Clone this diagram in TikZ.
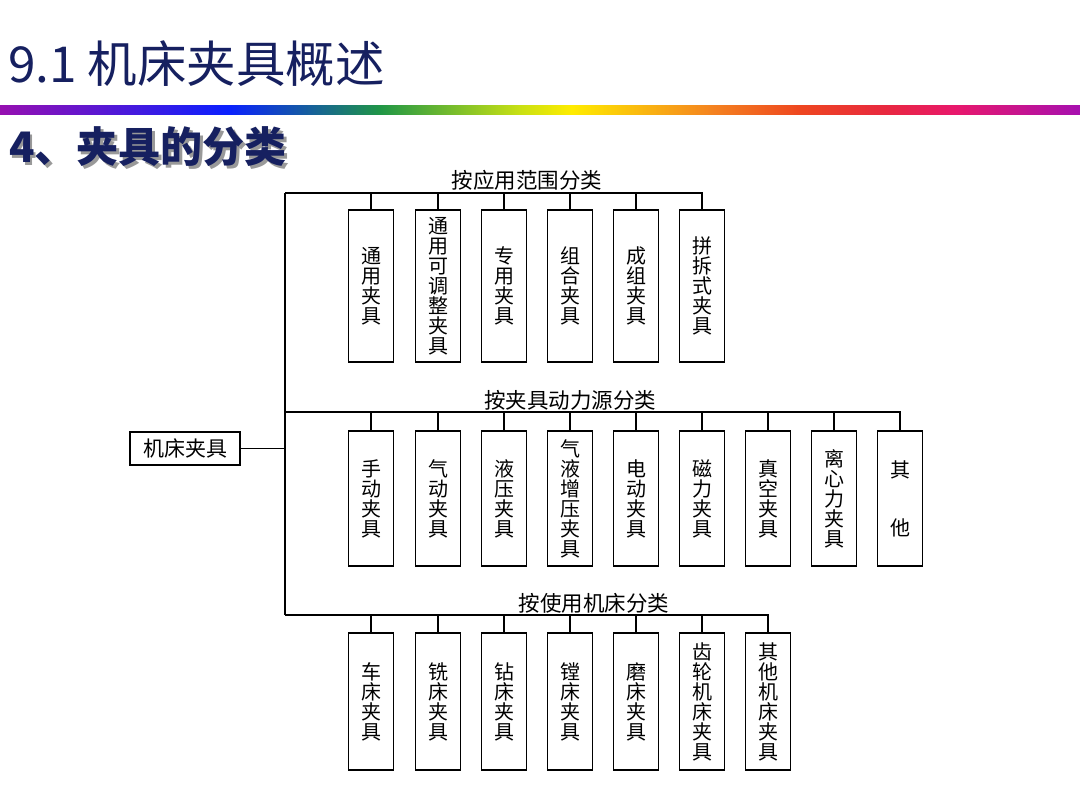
\documentclass[tikz,border=0pt]{standalone}
\usepackage{fontspec}
\newfontfamily\cjk{Noto Sans CJK SC}
\usetikzlibrary{calc}
\definecolor{navy}{RGB}{22,32,96}
\definecolor{gA}{RGB}{150,16,176}
\definecolor{gB}{RGB}{10,32,255}
\definecolor{gC}{RGB}{32,150,70}
\definecolor{gD}{RGB}{200,224,20}
\definecolor{gE}{RGB}{255,236,0}
\definecolor{gF}{RGB}{244,130,32}
\definecolor{gG}{RGB}{238,70,32}
\definecolor{gH}{RGB}{232,40,64}
\definecolor{gI}{RGB}{232,24,108}
\definecolor{gJ}{RGB}{166,16,176}
\tikzset{
  x=1pt, y=-1pt,
  line/.style={line width=1.6pt, black},
  vbox/.style={draw, line width=1.6pt, minimum width=45pt, inner sep=0pt, align=center,
    font=\cjk\fontsize{20}{20}\selectfont},
  rowA/.style={vbox, minimum height=152pt},
  rowB/.style={vbox, minimum height=135pt},
  rowC/.style={vbox, minimum height=137pt},
  grouplabel/.style={inner sep=0pt, font=\cjk\fontsize{21.5}{22}\selectfont},
  seg/.style={draw=none},
}
\begin{document}
\begin{tikzpicture}
\useasboundingbox (0,0) rectangle (1080,810);
\fill[white] (0,0) rectangle (1080,810);
% title
\node[anchor=west, inner sep=0pt, text=navy, font=\cjk\fontsize{49.5}{52}\selectfont] (title) at (8,64) {9.1 机床夹具概述};
% gradient bar
\shade[left color=gA, right color=gB, seg] (0,106) rectangle (228.5,115);
\shade[left color=gB, right color=gC, seg] (228,106) rectangle (380.5,115);
\shade[left color=gC, right color=gD, seg] (380,106) rectangle (519.5,115);
\shade[left color=gD, right color=gE, seg] (519,106) rectangle (571.5,115);
\shade[left color=gE, right color=gF, seg] (571,106) rectangle (713.5,115);
\shade[left color=gF, right color=gG, seg] (713,106) rectangle (800.5,115);
\shade[left color=gG, right color=gH, seg] (800,106) rectangle (886.5,115);
\shade[left color=gH, right color=gI, seg] (886,106) rectangle (955.5,115);
\shade[left color=gI, right color=gJ, seg] (955,106) rectangle (1080,115);
% subtitle with shadow
\node[anchor=west, inner sep=0pt, text=black!40, font=\cjk\bfseries\fontsize{42}{44}\selectfont] (subshadow) at (11.5,149.5) {4、夹具的分类};
\node[anchor=west, inner sep=0pt, text=navy, font=\cjk\bfseries\fontsize{42}{44}\selectfont] (subtitle) at (9,147) {4、夹具的分类};

% main box
\node[draw, line width=1.6pt, minimum width=110pt, minimum height=33pt, inner sep=0pt,
  font=\cjk\fontsize{21}{22}\selectfont] (main) at (185,448.5) {机床夹具};

% group labels
\node[grouplabel] (labA) at (527,180) {按应用范围分类};
\node[grouplabel] (labB) at (570,400) {按夹具动力源分类};
\node[grouplabel] (labC) at (594,603) {按使用机床分类};

% row A
\foreach \n/\x/\t in {1/371/通\\用\\夹\\具, 2/438/通\\用\\可\\调\\整\\夹\\具, 3/504/专\\用\\夹\\具,
  4/570/组\\合\\夹\\具, 5/636/成\\组\\夹\\具, 6/702/拼\\拆\\式\\夹\\具}
  \node[rowA] (a\n) at (\x,286) {\t};
% row B
\foreach \n/\x/\t in {1/371/手\\动\\夹\\具, 2/438/气\\动\\夹\\具, 3/504/液\\压\\夹\\具,
  4/570/气\\液\\增\\压\\夹\\具, 5/636/电\\动\\夹\\具, 6/702/磁\\力\\夹\\具,
  7/768/真\\空\\夹\\具, 8/834/离\\心\\力\\夹\\具}
  \node[rowB] (b\n) at (\x,498.5) {\t};
\node[rowB] (b9) at (900,498.5) {其\\[38pt]他};
% row C
\foreach \n/\x/\t in {1/371/车\\床\\夹\\具, 2/438/铣\\床\\夹\\具, 3/504/钻\\床\\夹\\具,
  4/570/镗\\床\\夹\\具, 5/636/磨\\床\\夹\\具, 6/702/齿\\轮\\机\\床\\夹\\具,
  7/768/其\\他\\机\\床\\夹\\具}
  \node[rowC] (c\n) at (\x,701.5) {\t};

% trunk
\coordinate (tA) at (285,193);
\coordinate (tB) at (285,412);
\coordinate (tC) at (285,615);
\draw[line] (tA) -- (tC);
\draw[line] (main.east) -- (main.east -| tA);
% buses
\draw[line] (tA) -| (a6.north);
\foreach \n in {1,...,5} \draw[line] (a\n.north) -- (a\n.north |- tA);
\draw[line] (tB) -| (b9.north);
\foreach \n in {1,...,8} \draw[line] (b\n.north) -- (b\n.north |- tB);
\draw[line] (tC) -| (c7.north);
\foreach \n in {1,...,6} \draw[line] (c\n.north) -- (c\n.north |- tC);
\end{tikzpicture}
\end{document}
